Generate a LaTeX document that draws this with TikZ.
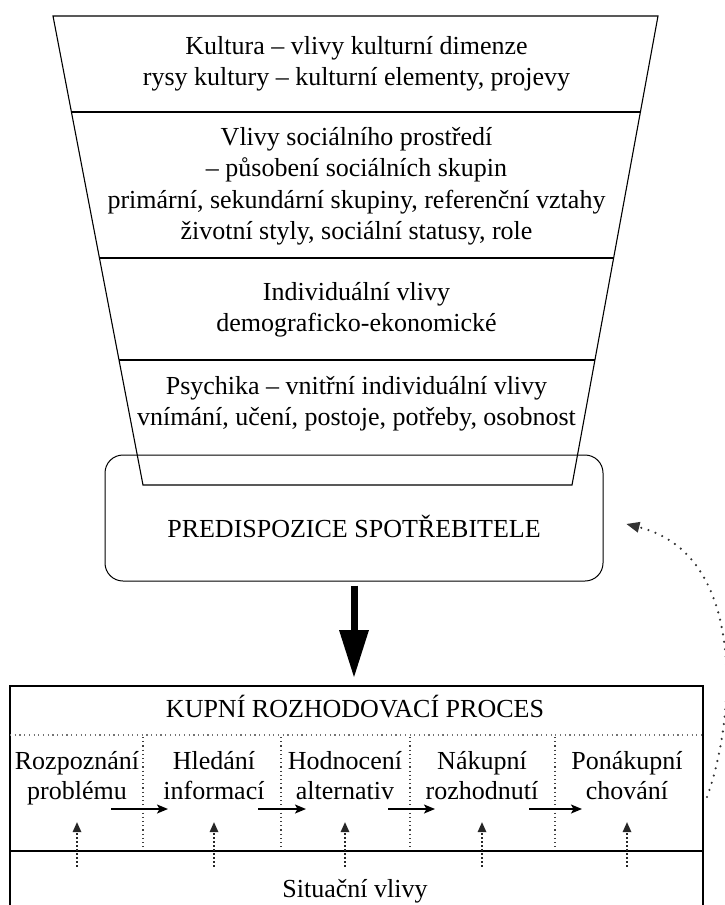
\documentclass[tikz,border=0pt]{standalone}
\usepackage{fontspec}
\setmainfont{Liberation Serif}
\usetikzlibrary{arrows.meta,calc}
\begin{document}
\begin{tikzpicture}[x=1pt,y=-1pt,
  every node/.style={inner sep=0pt, font=\fontsize{26}{31.5}\selectfont},
  txt/.style={align=center},
  steptxt/.style={align=center, font=\fontsize{26}{30}\selectfont},
  funnel/.style={line width=1.1pt},
  boxline/.style={line width=1.5pt},
  sepdot/.style={line width=1.1pt, black!75, dash pattern=on 1.2pt off 3pt},
  hdot/.style={line width=1.1pt, black!55, dash pattern=on 1.2pt off 3.5pt},
  flow/.style={line width=1.5pt, -{Stealth[length=11pt,width=9pt,inset=2.5pt]}},
  uparr/.style={line width=1.1pt, black!85, dash pattern=on 1.5pt off 2.5pt, -{Triangle[length=10pt,width=9pt,line width=0pt]}, shorten <=12pt, shorten >=14pt},
  bigarr/.style={line width=7pt, -{Triangle[length=47pt,width=30pt,line width=0pt]}},
  fbarr/.style={line width=2.4pt, black!80, line cap=round, dash pattern=on 0pt off 7.5pt, -{Triangle[length=13pt,width=11pt,line width=0pt]}}
]
\useasboundingbox (0,0) rectangle (724,905);

% funnel
\draw[funnel] (53,16) -- (658,16) -- (572,485) -- (143,485) -- cycle;
\draw[funnel] (71.4,112) -- (640.4,112);
\draw[funnel] (99.4,258) -- (613.6,258);
\draw[funnel] (119.0,360) -- (594.9,360);

\node[txt] (kultura) at (356.5,63.45) {\strut Kultura – vlivy kulturní dimenze\\\strut rysy kultury – kulturní elementy, projevy};
\node[txt] (social) at (356.5,185.95) {\strut Vlivy sociálního prostředí\\\strut – působení sociálních skupin\\\strut primární, sekundární skupiny, referenční vztahy\\\strut životní styly, sociální statusy, role};
\node[txt] (indiv) at (356.5,309.45) {\strut Individuální vlivy\\\strut demograficko-ekonomické};
\node[txt] (psych) at (356.5,403.45) {\strut Psychika – vnitřní individuální vlivy\\\strut vnímání, učení, postoje, potřeby, osobnost};

% predisposition box
\node[draw, line width=1pt, rounded corners=18pt, minimum width=498pt, minimum height=126pt, text height=40pt, text depth=2pt] (pred) at (354,518) {PREDISPOZICE SPOTŘEBITELE};

% lower box
\coordinate (lbl) at (10,905);
\coordinate (lbtl) at (10,686);
\coordinate (lbtr) at (703,686);
\coordinate (lbr) at (703,905);
\draw[boxline] (lbl) -- (lbtl) -- (lbtr) -- (lbr);
\draw[hdot] (10,735) -- (703,735);
\foreach \x in {143,281,410,555} \draw[sepdot] (\x,737) -- (\x,848);
\draw[boxline] (10,851) -- (703,851);

\draw[bigarr, shorten <=4pt, shorten >=9pt] (pred.south) -- (pred.south |- lbtl);

\node[anchor=base] (kupni) at (355,717) {KUPNÍ ROZHODOVACÍ PROCES};
\node[steptxt] (s1) at (77,778) {\strut Rozpoznání\\\strut problému};
\node[steptxt] (s2) at (214,778) {\strut Hledání\\\strut informací};
\node[steptxt] (s3) at (345,778) {\strut Hodnocení\\\strut alternativ};
\node[steptxt] (s4) at (482,778) {\strut Nákupní\\\strut rozhodnutí};
\node[steptxt] (s5) at (627,778) {\strut Ponákupní\\\strut chování};
\node[anchor=base] (sit) at (355,897) {Situační vlivy};

\coordinate (a1) at (111,809); \coordinate (b1) at (168,809);
\coordinate (a2) at (258,809); \coordinate (b2) at (306,809);
\coordinate (a3) at (388,809); \coordinate (b3) at (435,809);
\coordinate (a4) at (529,809); \coordinate (b4) at (582,809);
\draw[flow] (a1) -- (b1);
\draw[flow] (a2) -- (b2);
\draw[flow] (a3) -- (b3);
\draw[flow] (a4) -- (b4);

\foreach \s in {s1,s2,s3,s4,s5}
  \draw[uparr] (\s.south |- sit.north) -- (\s.south);

% feedback
\coordinate (fbs) at (707,797);
\draw[fbarr] (fbs) .. controls (735,720) and (748,555) .. ([shift={(23,6)}]pred.east);
\end{tikzpicture}
\end{document}
